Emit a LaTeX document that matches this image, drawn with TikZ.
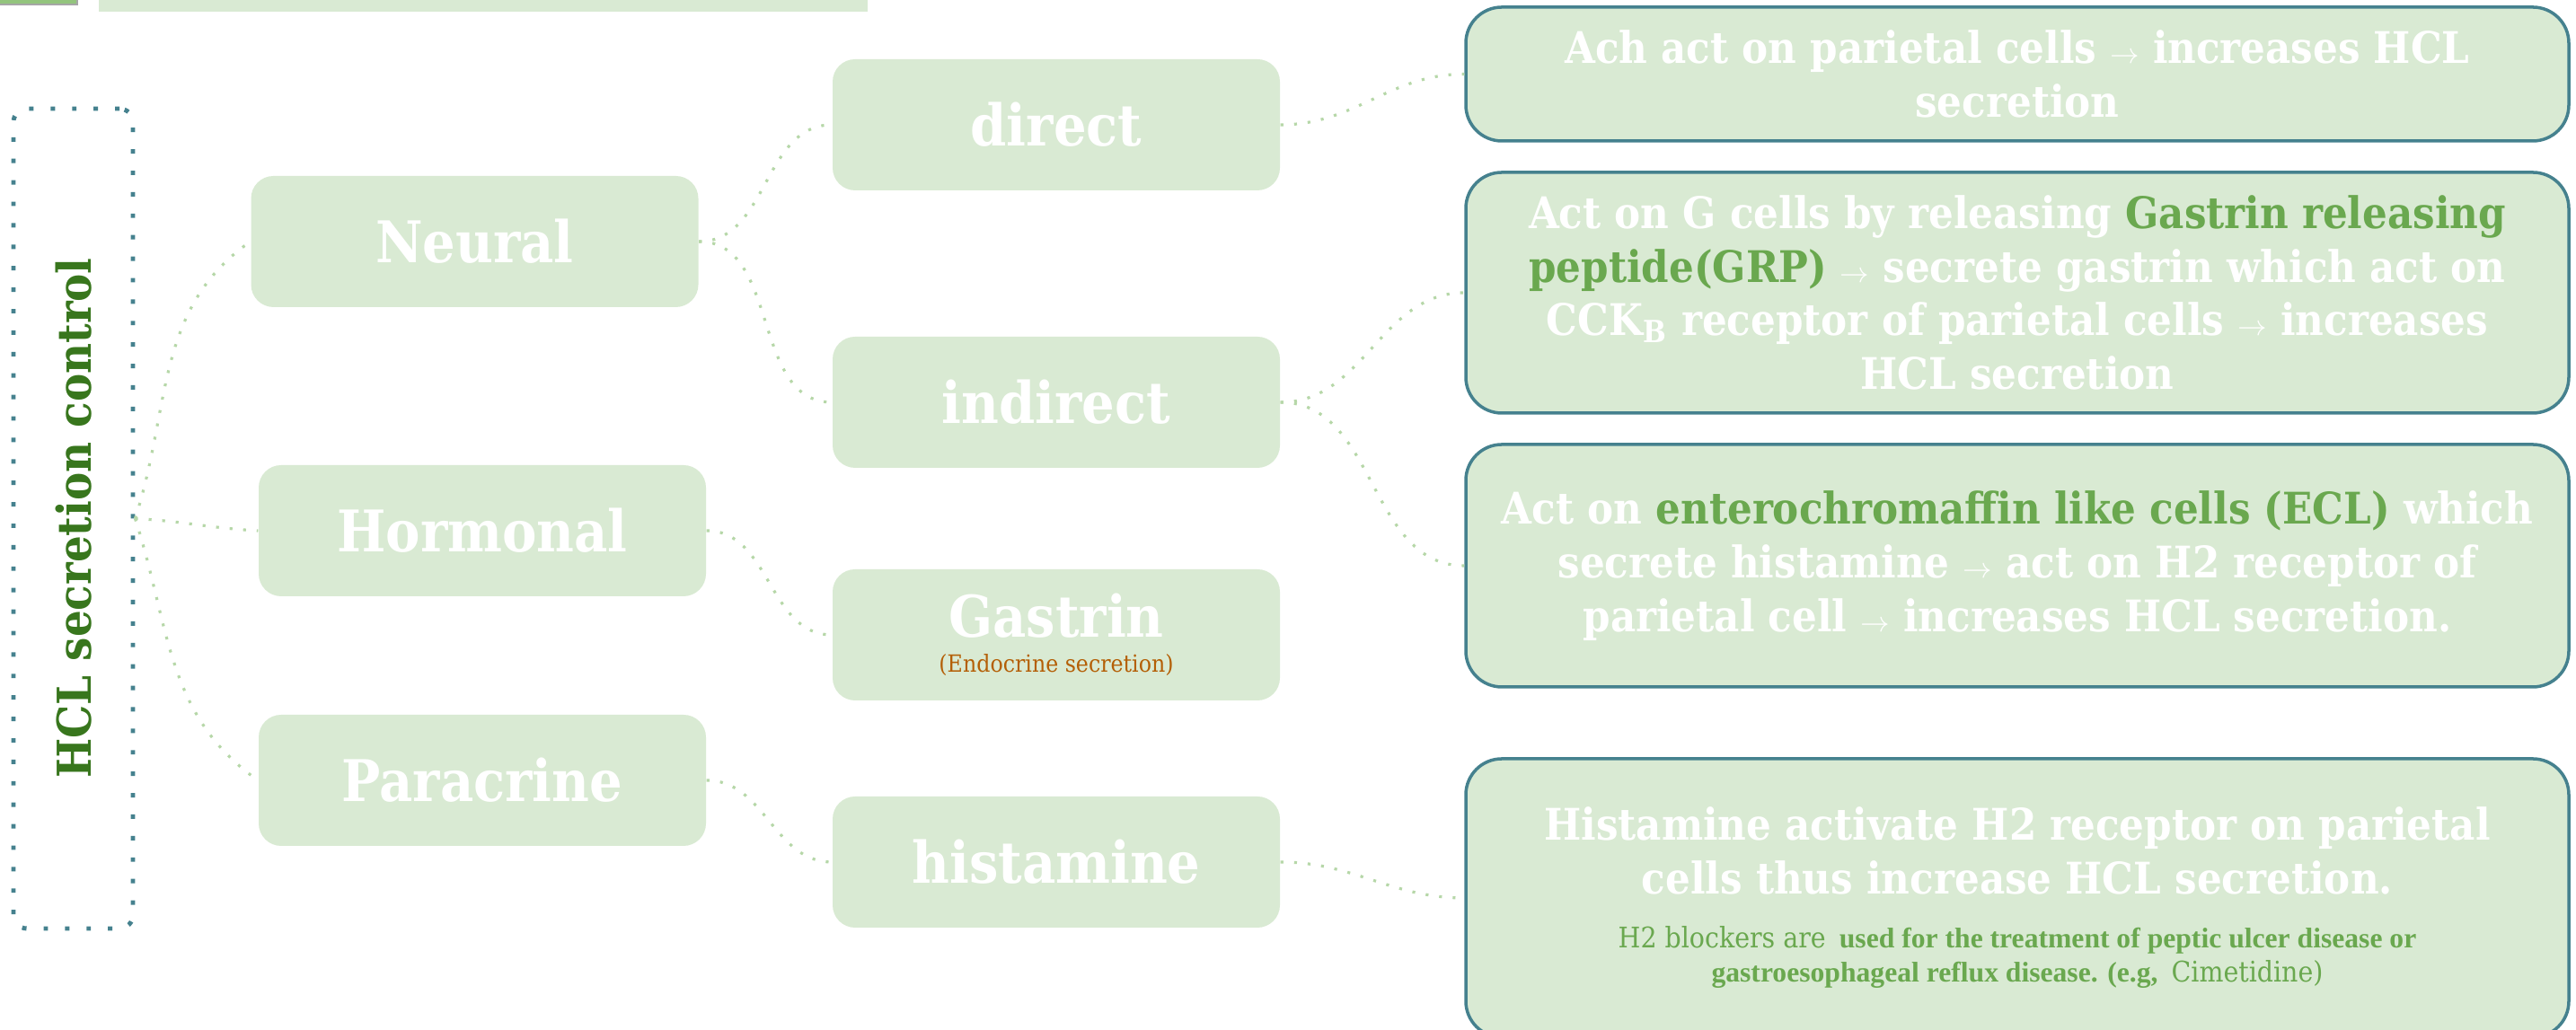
\documentclass[tikz,border=0pt]{standalone}
\usepackage{fontspec}
\setmainfont{DejaVu Serif Condensed}
\newfontfamily\timesfont{Liberation Serif}
\usepackage{xcolor}
\usepackage{tikz}
\definecolor{HCLFill}{HTML}{D9EAD3}
\definecolor{HCLLine}{HTML}{45818E}
\definecolor{HCLDot}{HTML}{B6D7A8}
\definecolor{HCLRoot}{HTML}{38761D}
\definecolor{HCLMark}{HTML}{6AA84F}
\definecolor{HCLOrange}{HTML}{B45F06}
\definecolor{HCLTab}{HTML}{93C47D}
\newcommand\labelfont{\bfseries\fontsize{18.2}{20}\selectfont}
\newcommand\notefont{\bfseries\fontsize{13.8}{17}\selectfont}
\newcommand\arr{{\fontsize{9.5}{9}\selectfont$\rightarrow$}}
\newcommand\mk[1]{{\color{HCLMark}#1}}
\newcommand\tip[1]{{\color{HCLMark}\fontsize{9}{11}\selectfont\mdseries #1}}
\newcommand\tipb[1]{{\color{HCLMark}\timesfont\bfseries\fontsize{9}{11}\selectfont #1}}

\begin{document}
\begin{tikzpicture}[x=1cm,y=1cm,
  catbox/.style={fill=HCLFill,rounded corners=0.25cm,minimum width=4.98cm,minimum height=1.46cm,inner sep=0pt,text=white,font=\labelfont,align=center},
  notebox/.style={fill=HCLFill,draw=HCLLine,line width=1pt,rounded corners=0.4cm,minimum width=12.28cm,inner sep=0pt,text=white,font=\notefont,align=center},
  link/.style={HCLDot,line width=0.9pt,dash pattern=on 0.9pt off 3.4pt}]
\path[use as bounding box] (0,0) rectangle (28.68,11.47);
\fill[HCLTab,draw=gray!70] (-0.10,11.42) rectangle (0.86,11.70);
\fill[HCLFill] (1.10,11.34) rectangle (9.66,11.70);
\node[draw=HCLLine,line width=1.4pt,dash pattern=on 1.4pt off 5.4pt,rounded corners=0.15cm,minimum width=1.33cm,minimum height=9.13cm,inner sep=0pt] (root) at (0.815,5.695) {};
\node[rotate=90,text=HCLRoot,font=\bfseries\fontsize{14.8}{17}\selectfont] (rootlabel) at (0.82,5.70) {HCL secretion control};
\node[catbox] (neural) at (5.285,8.78) {Neural};
\node[catbox] (hormonal) at (5.37,5.56) {Hormonal};
\node[catbox] (paracrine) at (5.37,2.78) {Paracrine};
\node[catbox] (direct) at (11.76,10.08) {direct};
\node[catbox] (indirect) at (11.76,6.99) {indirect};
\node[catbox] (gastrin) at (11.76,4.40) {Gastrin\\[-9pt]{\mdseries\color{HCLOrange}\fontsize{7.5}{8}\selectfont (Endocrine secretion)}};
\node[catbox] (histamine) at (11.76,1.87) {histamine};
\node[notebox,minimum height=1.49cm] (achnote) at (22.46,10.645) {Ach act on parietal cells \arr{} increases HCL\\ secretion};
\node[notebox,minimum height=2.68cm] (grpnote) at (22.46,8.21) {Act on G cells by releasing \mk{Gastrin releasing}\\ \mk{peptide(GRP)} \arr{} secrete gastrin which act on\\ CCK\textsubscript{B} receptor of parietal cells \arr{} increases\\ HCL secretion};
\node[notebox,minimum height=2.70cm] (eclnote) at (22.46,5.17) {Act on \mk{enterochromaffin like cells (ECL)} which\\ secrete histamine \arr{} act on H2 receptor of\\ parietal cell \arr{} increases HCL secretion.};
\node[notebox,minimum height=3.10cm] (hnote) at (22.46,1.47) {Histamine activate H2 receptor on parietal\\ cells thus increase HCL secretion.\\[0pt]
  \tip{H2 blockers are} \tipb{used for the treatment of peptic ulcer disease or}\\[-6pt]
  \tipb{gastroesophageal reflux disease. (e.g,} \tip{Cimetidine)}};
\draw[link] (root.east) to[out=72,in=215] (neural.west);
\draw[link] (root.east) to[out=-3,in=177] (hormonal.west);
\draw[link] (root.east) to[out=-72,in=145] (paracrine.west);
\draw[link] (neural.east) to[out=0,in=180] (direct.west);
\draw[link] (neural.east) to[out=0,in=180] (indirect.west);
\draw[link] (hormonal.east) to[out=0,in=180] (gastrin.west);
\draw[link] (paracrine.east) to[out=0,in=180] (histamine.west);
\draw[link] (direct.east) to[out=0,in=180] (achnote.west);
\draw[link] (indirect.east) to[out=0,in=180] (grpnote.west);
\draw[link] (indirect.east) to[out=0,in=180] (eclnote.west);
\draw[link] (histamine.east) to[out=0,in=180] (hnote.west);
\end{tikzpicture}
\end{document}
